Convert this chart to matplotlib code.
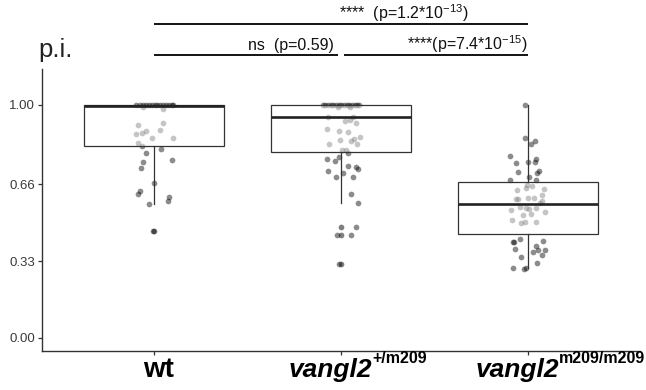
import matplotlib
matplotlib.use('Agg')
import matplotlib.pyplot as plt
import numpy as np

plt.rcParams['font.family'] = ['Liberation Sans', 'DejaVu Sans']
plt.rcParams['mathtext.fontset'] = 'custom'
plt.rcParams['mathtext.rm'] = 'Liberation Sans'
plt.rcParams['mathtext.default'] = 'regular'

# genotypes (main part + superscript)
genotypes = ['wt', 'vangl2', 'vangl2']
genotype_sup = ['', '+/m209', 'm209/m209']

# boxplot stats
box_low = [0.575, 0.581, 0.299]
box_q1 = [0.825, 0.797, 0.445]
box_med = [0.995, 0.947, 0.574]
box_q3 = [1.0, 1.0, 0.671]
box_high = [1.0, 1.0, 1.0]
outliers = [[0.458], [0.476, 0.442, 0.319], []]

# jittered points: value + horizontal jitter
wt_vals = [1.0] * 14 + [0.99, 0.981, 0.915, 0.923, 0.876, 0.881, 0.89, 0.891, 0.857, 0.857,
                        0.836, 0.824, 0.81, 0.795, 0.764, 0.755, 0.73, 0.664, 0.631, 0.617,
                        0.604, 0.588, 0.574, 0.458]
wt_jit = [-0.096, -0.078, -0.061, -0.043, -0.029, -0.012, 0.004, 0.018, 0.032, 0.05, 0.064,
          0.082, 0.096, 0.1,
          -0.057, 0.046, -0.084, 0.046, -0.096, -0.066, -0.043, 0.032, -0.009, 0.1,
          -0.084, -0.064, 0.039, -0.041, 0.098, -0.057, -0.07, -0.002, -0.078, -0.084,
          0.082, 0.075, -0.03, -0.007]

het_vals = [1.0] * 15 + [0.99, 0.99, 0.947, 0.933, 0.935, 0.947, 0.921, 0.896, 0.887, 0.884,
                         0.864, 0.85, 0.847, 0.853, 0.833, 0.833, 0.806, 0.805, 0.795, 0.778,
                         0.767, 0.761, 0.738, 0.736, 0.725, 0.718, 0.707, 0.69, 0.69, 0.617,
                         0.581, 0.476, 0.442, 0.442, 0.319]
het_jit = [-0.098, -0.084, -0.07, -0.055, -0.041, -0.027, -0.012, 0.002, 0.016, 0.03, 0.045,
           0.059, 0.073, 0.087, 0.098,
           -0.014, 0.048, -0.071, 0.021, 0.048, 0.066, 0.08, -0.073, -0.011, 0.036,
           0.1, -0.005, 0.052, 0.07, -0.062, 0.087, 0.004, 0.025, 0.036, -0.009,
           -0.075, -0.034, 0.039, 0.08, 0.093, -0.071, 0.009, -0.025, 0.062, 0.053,
           0.093, 0.078, -0.02, 0.055, -0.011]

hom_vals = [1.0, 0.858, 0.847, 0.834, 0.782, 0.752, 0.757, 0.767, 0.756, 0.712, 0.718, 0.708,
            0.692, 0.678, 0.679, 0.655, 0.652, 0.634, 0.638, 0.643, 0.614, 0.595, 0.595,
            0.601, 0.601, 0.589, 0.578, 0.564, 0.56, 0.552, 0.558, 0.549, 0.542, 0.528,
            0.532, 0.506, 0.492, 0.496, 0.497, 0.426, 0.412, 0.41, 0.418, 0.383, 0.395,
            0.378, 0.378, 0.368, 0.356, 0.349, 0.32, 0.3, 0.297, 0.3]
hom_jit = [-0.016, -0.014, 0.039, 0.016, -0.094, -0.062, 0.002, 0.046, 0.039, -0.052, 0.062,
           0.048, 0.004, -0.094, 0.046, -0.007, 0.021, -0.057, 0.086, -0.011, 0.078,
           -0.064, -0.055, -0.002, 0.034, 0.078, 0.064, -0.043, -0.011, 0.007, 0.046,
           -0.089, 0.089, -0.027, 0.016, -0.087, -0.036, -0.014, 0.045, -0.043, -0.078,
           -0.073, 0.082, -0.068, 0.046, 0.094, 0.055, 0.025, 0.077, -0.036, 0.05, -0.078,
           -0.02, -0.011]

# comparisons
sig_pairs = [(1, 3), (1, 2), (2, 3)]
sig_labels = ['****  (p=1.2*10$^{-13}$)', 'ns  (p=0.59)', '****(p=7.4*10$^{-15}$)']

yticks = [0.0, 0.33, 0.66, 1.0]

fig = plt.figure(figsize=(6.46, 3.90), dpi=100)
ax = fig.add_axes([42 / 646, 39 / 390, 598 / 646, 282 / 390])

positions = [1, 2, 3]
all_vals = [wt_vals, het_vals, hom_vals]
all_jit = [wt_jit, het_jit, hom_jit]

for pos, vals, jit in zip(positions, all_vals, all_jit):
    ax.scatter(pos + np.array(jit), vals, s=17, color='black', alpha=0.45,
               linewidths=0, zorder=2)

stats = []
for i in range(3):
    stats.append(dict(whislo=box_low[i], q1=box_q1[i], med=box_med[i],
                      q3=box_q3[i], whishi=box_high[i], fliers=outliers[i]))

ax.bxp(stats, positions=positions, widths=0.75, patch_artist=True, showcaps=False,
       showfliers=False,
       boxprops=dict(facecolor=(1, 1, 1, 0.5), edgecolor='#333333', linewidth=0.9),
       medianprops=dict(color='#222222', linewidth=1.9),
       whiskerprops=dict(color='#333333', linewidth=0.9), zorder=3)

for pos, fl in zip(positions, outliers):
    if fl:
        ax.scatter([pos] * len(fl), fl, s=17, color='black', alpha=0.5,
                   linewidths=0, zorder=4)

ax.set_xlim(0.4, 3.6)
ax.set_ylim(-0.0558, 1.1545)
ax.set_yticks(yticks)
ax.set_yticklabels(['%.2f' % v for v in yticks])
ax.set_xticks(positions)
ax.set_xticklabels([])

for s in ['top', 'right']:
    ax.spines[s].set_visible(False)
for s in ['left', 'bottom']:
    ax.spines[s].set_color('#333333')
    ax.spines[s].set_linewidth(1.0)
ax.tick_params(axis='both', length=3, width=0.9, color='#333333',
               labelsize=9.5, labelcolor='#3a3a3a', pad=2)

# x labels: wt centred on its tick, vangl2 labels start a bit left of the tick
# with the superscript right after
renderer = fig.canvas.get_renderer()
for pos, name, sup in zip(positions, genotypes, genotype_sup):
    if not sup:
        ax.annotate(name, xy=(pos, -0.092), xycoords=ax.get_xaxis_transform(),
                    xytext=(4, 0), textcoords='offset pixels', ha='center',
                    va='baseline', fontsize=20, fontweight='bold', color='black')
        continue
    t = ax.annotate(name, xy=(pos, -0.092), xycoords=ax.get_xaxis_transform(),
                    xytext=(-52, 0), textcoords='offset pixels', ha='left',
                    va='baseline', fontsize=19, fontweight='bold', fontstyle='italic',
                    color='black')
    w = t.get_window_extent(renderer=renderer).width
    ax.annotate(sup, xy=(pos, -0.092), xycoords=ax.get_xaxis_transform(),
                xytext=(-52 + w, 14), textcoords='offset pixels', ha='left',
                va='baseline', fontsize=11.5, fontweight='bold', color='black')

# significance bars
bar_y = [1.348, 1.215, 1.215]
bar_x = [(1.0, 3.0), (1.0, 1.984), (2.016, 3.0)]
text_x = [2.684, 1.963, 3.0]
text_y = [1.369, 1.236, 1.236]
for (x0, x1), by, tx, ty, lab in zip(bar_x, bar_y, text_x, text_y, sig_labels):
    ax.plot([x0, x1], [by, by], color='black', lw=1.3, clip_on=False,
            solid_capstyle='butt')
    ax.text(tx, ty, lab, ha='right', va='baseline', fontsize=11.5, color='#111111',
            clip_on=False)

fig.text(38 / 646, (390 - 57) / 390, 'p.i.', fontsize=18.5, color='#222222',
         va='baseline', ha='left')

fig.savefig('out.png', dpi=100)
